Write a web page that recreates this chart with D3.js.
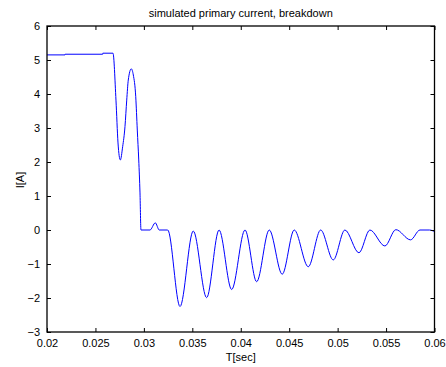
<!DOCTYPE html>
<html><head><meta charset="utf-8">
<script src="https://cdn.jsdelivr.net/npm/d3@7"></script>
<style>body{margin:0;background:#fff;} text{font-family:"Liberation Sans",Arial,sans-serif;}</style>
</head><body><svg id="c" width="446" height="367"></svg>
<script>
const timeSec = [0.0200,0.02186,0.02187,0.02575,0.02576,0.02681,0.02712,0.02733,0.02757,0.02781,0.02805,0.02823,0.02839,0.02870,0.02891,0.02916,0.02932,0.02947,0.02960,0.02970,
0.03063,0.03118,0.03159,0.03246,0.03373,0.03510,0.03648,0.03776,0.03906,0.04044,0.04164,0.04294,0.04428,0.04552,0.04697,0.04825,0.04955,0.05075,0.05220,0.05333,0.05488,0.05601,0.05753,0.05850,0.05950,0.0600];
const currentA = [5.15,5.15,5.17,5.17,5.20,5.20,3.82,2.56,2.06,2.45,3.04,3.82,4.41,4.74,4.56,3.92,2.94,2.06,1.09,0.0,
0.0,0.21,0.0,0.0,-2.25,-0.03,-1.99,0.0,-1.75,0.0,-1.52,0.0,-1.30,0.0,-1.08,0.0,-0.88,0.0,-0.67,0.0,-0.47,0.01,-0.29,0.0,0.0,-0.05];
const xTicks = [0.02,0.025,0.03,0.035,0.04,0.045,0.05,0.055,0.06];
const yTicks = [-3,-2,-1,0,1,2,3,4,5,6];
const titleText = "simulated primary current, breakdown";
const xLabel = "T[sec]", yLabel = "I[A]";

const svg = d3.select("#c");
const L=47,R=434.5,T=26,B=332;
const x = d3.scaleLinear().domain([0.02,0.06]).range([L,R]);
const y = d3.scaleLinear().domain([-3,6]).range([B,T]);
const fmt = d => String(+d.toFixed(3));

const line = d3.line().x((d,i)=>x(timeSec[i])).y(d=>y(d)).curve(d3.curveMonotoneX);
svg.append("path").datum(currentA).attr("d",line).attr("fill","none").attr("stroke","#0000ff").attr("stroke-width",1);

const tl=4;
const ax = (g)=>g.style("font-size","11px");
svg.append("g").attr("transform",`translate(0,${B})`).call(d3.axisBottom(x).tickValues(xTicks).tickSizeInner(-tl).tickSizeOuter(0).tickPadding(7).tickFormat(fmt)).call(ax);
svg.append("g").attr("transform",`translate(0,${T})`).call(d3.axisTop(x).tickValues(xTicks).tickSizeInner(-tl).tickSizeOuter(0).tickFormat("")).call(ax);
svg.append("g").attr("transform",`translate(${L},0)`).call(d3.axisLeft(y).tickValues(yTicks).tickSizeInner(-tl).tickSizeOuter(0).tickPadding(7).tickFormat(d3.format("d"))).call(ax);
svg.append("g").attr("transform",`translate(${R},0)`).call(d3.axisRight(y).tickValues(yTicks).tickSizeInner(-tl).tickSizeOuter(0).tickFormat("")).call(ax);
svg.selectAll(".domain").remove();
svg.selectAll(".tick line").attr("stroke","#000");
svg.selectAll(".tick text").attr("fill","#000");
svg.append("rect").attr("x",L).attr("y",T).attr("width",R-L).attr("height",B-T).attr("fill","none").attr("stroke","#000").attr("stroke-width",1.3);

svg.append("text").attr("x",(L+R)/2).attr("y",17).attr("text-anchor","middle").style("font-size","11px").text(titleText);
svg.append("text").attr("x",(L+R)/2).attr("y",361).attr("text-anchor","middle").style("font-size","11px").text(xLabel);
svg.append("text").attr("transform","translate(24,180) rotate(-90)").attr("text-anchor","middle").style("font-size","11px").text(yLabel);
</script></body></html>
